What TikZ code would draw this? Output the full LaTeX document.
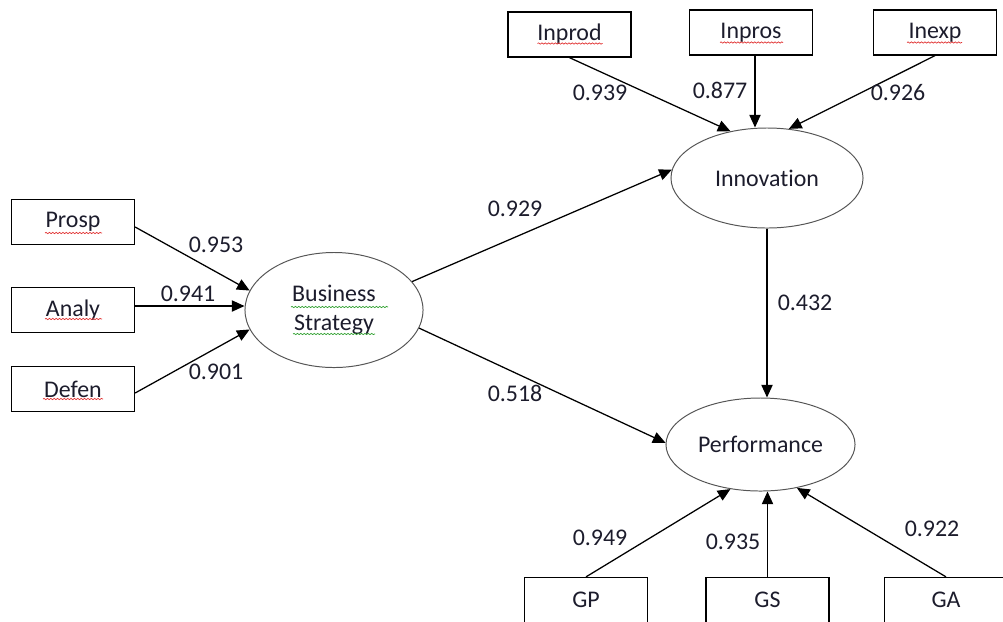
\documentclass[tikz,border=0pt]{standalone}
\usepackage{fontspec}
\setmainfont{Carlito}[Ligatures=NoCommon]
\usepackage{tikz}
\usetikzlibrary{shapes.geometric, positioning, calc}
\usetikzlibrary{arrows.meta}
\usetikzlibrary{decorations.pathmorphing}
\tikzset{>={Triangle[length=9pt,width=8pt]}}
\definecolor{ovalgray}{HTML}{555555}
\definecolor{inktext}{HTML}{1C1C2C}
\definecolor{squigred}{HTML}{E03030}
\definecolor{squiggreen}{HTML}{30A030}
\tikzset{
	ind/.style={draw, line width=0.9pt, minimum width=3.075cm, minimum height=1.125cm, inner sep=0pt, text=inktext},
	lat/.style={draw=ovalgray, line width=0.7pt, ellipse, inner sep=0pt, align=center, text=inktext},
	path/.style={->, line width=0.9pt},
	loading/.style={text=inktext},
	spell/.style={decorate, decoration={snake, amplitude=0.45pt, segment length=2.4pt}, line width=0.5pt, color=squigred},
	gram/.style={spell, color=squiggreen}
}

\begin{document}
\begin{tikzpicture}[x=0.025cm, y=-0.025cm, font=\fontsize{17}{19.5}\selectfont]
			\useasboundingbox (0,0) rectangle (1003,621);
			% latent variables
			\node [lat, minimum width=4.45cm, minimum height=2.875cm] (bstrat) at (334,310) {Business\\[1pt]Strategy};
			\node [lat, minimum width=4.8cm, minimum height=2.5cm] (inn) at (767,178) {Innovation};
			\node [lat, minimum width=4.725cm, minimum height=2.325cm] (perf) at (760.5,444.5) {Performance};
			% indicators
			\node [ind] (prosp) at (73,222) {Prosp};
			\node [ind] (analy) at (73,310) {Analy};
			\node [ind] (defen) at (73,389) {Defen};
			\node [ind] (inprod) at (569.5,34.5) {Inprod};
			\node [ind] (inpros) at (751,32.5) {Inpros};
			\node [ind] (inexp) at (935,32.5) {Inexp};
			\node [ind] (gp) at (586,600) {GP};
			\node [ind] (gs) at (767.5,600) {GS};
			\node [ind] (ga) at (946,600) {GA};
			% spelling marks
			\draw [spell] ([shift={(-28,11)}]prosp.center) -- ++(57,0);
			\draw [spell] ([shift={(-28,9)}]analy.center) -- ++(57,0);
			\draw [spell] ([shift={(-30,10)}]defen.center) -- ++(60,0);
			\draw [spell] ([shift={(-32,9)}]inprod.center) -- ++(65,0);
			\draw [spell] ([shift={(-31,10)}]inpros.center) -- ++(63,0);
			\draw [spell] ([shift={(-28,10)}]inexp.center) -- ++(55,0);
			\draw [gram] ([shift={(-43,-3)}]bstrat.center) -- ++(97,0);
			\draw [gram] ([shift={(-41,24)}]bstrat.center) -- ++(82,0);
			% paths
			\draw [path] ([shift={(0,5)}]prosp.east) -- (bstrat.167);
			\draw [path] ([shift={(0,-4)}]analy.east) -- ([shift={(0,-4)}]analy.east -| bstrat.west);
			\draw [path] ([shift={(0,4)}]defen.east) -- (bstrat.193);
			\draw [path] (bstrat.20) -- (inn.175);
			\draw [path] (bstrat.-12) -- (perf.179);
			\draw [path] (inn.south) -- (inn.south |- perf.north);
			\draw [path] (inprod.south) -- (inn.128);
			\draw [path] ([shift={(4,0)}]inpros.south) -- ([shift={(4,0)}]inpros.south |- inn.north);
			\draw [path] (inexp.south) -- (inn.66);
			\draw [path] (gp.north) -- (perf.236);
			\draw [path] (gs.north) -- (gs.north |- perf.south);
			\draw [path] (ga.north) -- (perf.310);
			% loadings
			\node [loading] (l953) at (216,245) {0.953};
			\node [loading] (l941) at (188,294) {0.941};
			\node [loading] (l901) at (216,372) {0.901};
			\node [loading] (l929) at (515,209) {0.929};
			\node [loading] (l518) at (515,393) {0.518};
			\node [loading] (l432) at (805,303) {0.432};
			\node [loading] (l939) at (600,93) {0.939};
			\node [loading] (l877) at (720,90) {0.877};
			\node [loading] (l926) at (898,93) {0.926};
			\node [loading] (l949) at (600,538) {0.949};
			\node [loading] (l935) at (733,542) {0.935};
			\node [loading] (l922) at (932,529) {0.922};
		\end{tikzpicture}
\end{document}
